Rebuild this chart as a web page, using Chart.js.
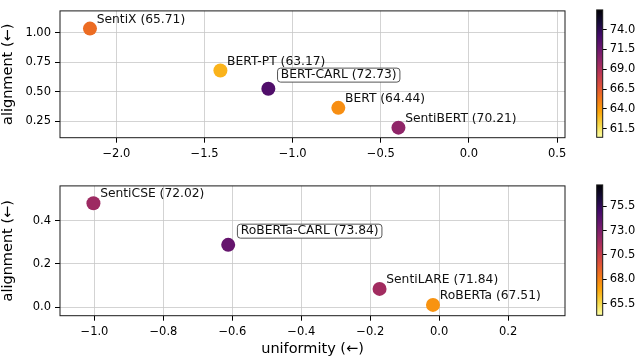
<!DOCTYPE html>
<html>
<head>
<meta charset="utf-8">
<script src="https://cdn.jsdelivr.net/npm/chart.js@4.4.1/dist/chart.umd.min.js"></script>
<style>
  html, body { margin: 0; padding: 0; background: #fff; }
  #wrap { position: relative; width: 640px; height: 359px; overflow: hidden; }
  .box { position: absolute; }
</style>
</head>
<body>
<div id="wrap">
  <div class="box" style="left:0;top:0"><canvas id="topScatter" width="640" height="175"></canvas></div>
  <div class="box" style="left:585px;top:0"><canvas id="topBar" width="55" height="175"></canvas></div>
  <div class="box" style="left:0;top:175px"><canvas id="bottomScatter" width="640" height="184"></canvas></div>
  <div class="box" style="left:585px;top:175px"><canvas id="bottomBar" width="55" height="184"></canvas></div>
</div>
<script>
// top panel: BERT family
const topNames = ['SentiX', 'BERT-PT', 'BERT-CARL', 'BERT', 'SentiBERT']
const topUniformity = [-2.15, -1.41, -1.138, -0.741, -0.40]
const topAlignment = [1.034, 0.679, 0.524, 0.363, 0.195]
const topScores = [65.71, 63.17, 72.73, 64.44, 70.21]
const topBoxed = ['BERT-CARL']
const topXRange = [-2.32, 0.545]
const topYRange = [0.11, 1.184]
const topXTicks = [-2.0, -1.5, -1.0, -0.5, 0.0, 0.5]
const topYTicks = [0.25, 0.5, 0.75, 1.0]
const topColorRange = [60.4, 76.5]
const topColorTicks = [61.5, 64.0, 66.5, 69.0, 71.5, 74.0]

// bottom panel: RoBERTa family
const bottomNames = ['SentiCSE', 'RoBERTa-CARL', 'SentiLARE', 'RoBERTa']
const bottomUniformity = [-1.003, -0.612, -0.173, -0.018]
const bottomAlignment = [0.481, 0.288, 0.084, 0.01]
const bottomScores = [72.02, 73.84, 71.84, 67.51]
const bottomBoxed = ['RoBERTa-CARL']
const bottomXRange = [-1.1, 0.365]
const bottomYRange = [-0.04, 0.561]
const bottomXTicks = [-1.0, -0.8, -0.6, -0.4, -0.2, 0.0, 0.2]
const bottomYTicks = [0.0, 0.2, 0.4]
const bottomColorRange = [64.3, 77.7]
const bottomColorTicks = [65.5, 68.0, 70.5, 73.0, 75.5]

const FONT = '"DejaVu Sans", sans-serif'
const INFERNO = ['#000004', '#160b39', '#420a68', '#6a176e', '#932667', '#bc3754',
  '#dd513a', '#f37819', '#fca50a', '#f6d746', '#fcffa4']

function hexRgb(h) {
  return [1, 3, 5].map(i => parseInt(h.slice(i, i + 2), 16))
}

function inferno(t) {
  t = Math.min(1, Math.max(0, t))
  const p = t * (INFERNO.length - 1)
  const i = Math.min(INFERNO.length - 2, Math.floor(p))
  const f = p - i
  const a = hexRgb(INFERNO[i]), b = hexRgb(INFERNO[i + 1])
  const c = a.map((v, k) => Math.round(v + (b[k] - v) * f))
  return 'rgb(' + c.join(',') + ')'
}

// inferno_r: low score -> pale yellow, high score -> black
function scoreColor(v, range) {
  return inferno(1 - (v - range[0]) / (range[1] - range[0]))
}

function fmt(v, d) {
  return v.toFixed(d).replace('-', '\u2212')
}

const framePlugin = {
  id: 'frame',
  afterDraw(chart) {
    const { ctx, chartArea: a } = chart
    ctx.save()
    ctx.strokeStyle = '#1a1a1a'
    ctx.lineWidth = 1
    ctx.strokeRect(a.left, a.top, a.right - a.left, a.bottom - a.top)
    ctx.restore()
  }
}

const labelPlugin = {
  id: 'pointLabels',
  afterDatasetsDraw(chart, args, opts) {
    const ctx = chart.ctx
    const meta = chart.getDatasetMeta(0)
    ctx.save()
    ctx.font = '12.3px ' + FONT
    ctx.textAlign = 'left'
    ctx.textBaseline = 'alphabetic'
    ctx.fillStyle = '#111'
    meta.data.forEach((pt, i) => {
      const text = opts.names[i] + ' (' + opts.scores[i].toFixed(2) + ')'
      if (opts.boxed.includes(opts.names[i])) {
        const tx = pt.x + 12.5
        const ty = pt.y - 11
        const w = ctx.measureText(text).width
        ctx.beginPath()
        ctx.roundRect(tx - 3.3, ty - 9.7, w + 6.6, 14, 3)
        ctx.fillStyle = '#fff'
        ctx.fill()
        ctx.strokeStyle = '#555'
        ctx.lineWidth = 1
        ctx.stroke()
        ctx.fillStyle = '#111'
        ctx.fillText(text, tx, ty)
      } else {
        ctx.fillText(text, pt.x + 6.7, pt.y - 5.7)
      }
    })
    ctx.restore()
  }
}

function gridOpts() {
  return {
    color: '#c8c8c8',
    lineWidth: 0.8,
    borderDash: [3.5, 2.5],
    drawTicks: true,
    tickLength: 5,
    tickColor: '#000',
    tickWidth: 1,
    tickBorderDash: []
  }
}

function makeScatter(id, p) {
  const points = p.xs.map((x, i) => ({ x: x, y: p.ys[i] }))
  const colors = p.scores.map(s => scoreColor(s, p.colorRange))
  new Chart(document.getElementById(id), {
    type: 'scatter',
    data: {
      datasets: [{
        data: points,
        pointRadius: 7,
        pointHoverRadius: 7,
        pointBorderWidth: 0,
        pointBackgroundColor: colors
      }]
    },
    options: {
      responsive: false,
      animation: false,
      events: [],
      layout: { padding: { left: 0, right: 75, top: p.top, bottom: 0 } },
      plugins: {
        legend: { display: false },
        tooltip: { enabled: false },
        pointLabels: { names: p.names, scores: p.scores, boxed: p.boxed }
      },
      scales: {
        x: {
          type: 'linear',
          min: p.xRange[0],
          max: p.xRange[1],
          afterBuildTicks: s => { s.ticks = p.xTicks.map(v => ({ value: v })) },
          afterFit: s => { s.height = p.xAxisHeight },
          grid: gridOpts(),
          border: { display: false },
          ticks: {
            color: '#000',
            padding: 4,
            maxRotation: 0,
            font: { family: FONT, size: 11.5 },
            callback: v => fmt(v, p.xDec)
          },
          title: {
            display: p.xTitle !== '',
            text: p.xTitle,
            color: '#000',
            font: { family: FONT, size: 14.5 },
            padding: { top: 0, bottom: 1 }
          }
        },
        y: {
          type: 'linear',
          min: p.yRange[0],
          max: p.yRange[1],
          afterBuildTicks: s => { s.ticks = p.yTicks.map(v => ({ value: v })) },
          afterFit: s => { s.width = 60 },
          grid: gridOpts(),
          border: { display: false },
          ticks: {
            color: '#000',
            padding: 4,
            font: { family: FONT, size: 11.5 },
            callback: v => fmt(v, p.yDec)
          },
          title: {
            display: true,
            text: 'alignment (\u2190)',
            color: '#000',
            font: { family: FONT, size: 14.5 },
            padding: { top: 0, bottom: 0 }
          }
        }
      }
    },
    plugins: [framePlugin, labelPlugin]
  })
}

function makeColorbar(id, range, ticks, top, bottom) {
  new Chart(document.getElementById(id), {
    type: 'bar',
    data: {
      labels: [''],
      datasets: [{
        data: [[range[0], range[1]]],
        borderWidth: 0,
        barPercentage: 1,
        categoryPercentage: 1,
        backgroundColor: ctx => {
          const a = ctx.chart.chartArea
          if (!a) return '#888'
          const g = ctx.chart.ctx.createLinearGradient(0, a.top, 0, a.bottom)
          INFERNO.forEach((c, k) => g.addColorStop(k / (INFERNO.length - 1), c))
          return g
        }
      }]
    },
    options: {
      responsive: false,
      animation: false,
      events: [],
      layout: { padding: { left: 11.7, right: 0, top: top, bottom: bottom } },
      plugins: { legend: { display: false }, tooltip: { enabled: false } },
      scales: {
        x: { display: false },
        y: {
          position: 'right',
          min: range[0],
          max: range[1],
          afterBuildTicks: s => { s.ticks = ticks.map(v => ({ value: v })) },
          afterFit: s => { s.width = 37.3 },
          grid: { drawOnChartArea: false, drawTicks: true, tickLength: 4, tickColor: '#000' },
          border: { display: false },
          ticks: {
            color: '#000',
            padding: 3,
            font: { family: FONT, size: 11.5 },
            callback: v => v.toFixed(1)
          }
        }
      }
    },
    plugins: [framePlugin]
  })
}

makeScatter('topScatter', {
  names: topNames, xs: topUniformity, ys: topAlignment, scores: topScores, boxed: topBoxed,
  xRange: topXRange, yRange: topYRange, xTicks: topXTicks, yTicks: topYTicks,
  xDec: 1, yDec: 2, colorRange: topColorRange, top: 1.7, xAxisHeight: 37.3, xTitle: ''
})
makeColorbar('topBar', topColorRange, topColorTicks, 1.7, 37.7)

makeScatter('bottomScatter', {
  names: bottomNames, xs: bottomUniformity, ys: bottomAlignment, scores: bottomScores, boxed: bottomBoxed,
  xRange: bottomXRange, yRange: bottomYRange, xTicks: bottomXTicks, yTicks: bottomYTicks,
  xDec: 1, yDec: 1, colorRange: bottomColorRange, top: 4, xAxisHeight: 43.3, xTitle: 'uniformity (\u2190)'
})
makeColorbar('bottomBar', bottomColorRange, bottomColorTicks, 3.7, 43.7)
</script>
</body>
</html>
